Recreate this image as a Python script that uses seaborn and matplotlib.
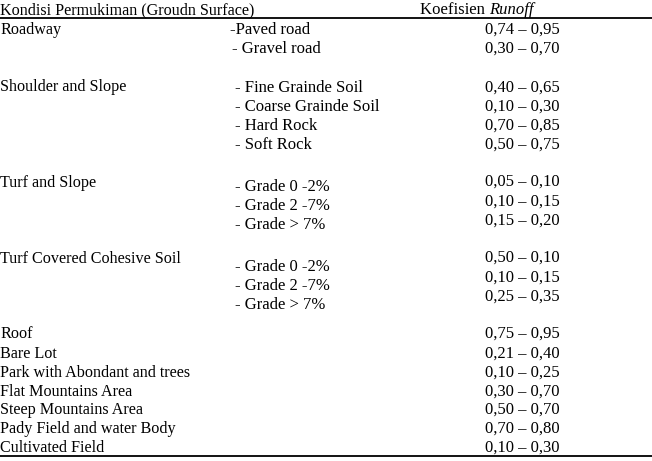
import matplotlib
matplotlib.use("Agg")
import matplotlib.pyplot as plt
import seaborn as sns
import pandas as pd

sns.set_theme(style="white")
plt.rcParams['font.family'] = ['Liberation Serif', 'DejaVu Serif']

# ---- table content ----
header_left = "Kondisi Permukiman (Groudn Surface)"
header_right_plain = "Koefisien "
header_right_italic = "Runoff"

groups = ["Roadway", "Shoulder and Slope", "Turf and Slope",
          "Turf Covered Cohesive Soil", "Roof", "Bare Lot",
          "Park with Abondant and trees", "Flat Mountains Area",
          "Steep Mountains Area", "Pady Field and water Body",
          "Cultivated Field"]

subitems = ["-Paved road", "- Gravel road",
            "- Fine Grainde Soil", "- Coarse Grainde Soil", "- Hard Rock", "- Soft Rock",
            "- Grade 0 -2%", "- Grade 2 -7%", "- Grade > 7%",
            "- Grade 0 -2%", "- Grade 2 -7%", "- Grade > 7%"]

coefficients = ["0,74 – 0,95", "0,30 – 0,70",
                "0,40 – 0,65", "0,10 – 0,30", "0,70 – 0,85", "0,50 – 0,75",
                "0,05 – 0,10", "0,10 – 0,15", "0,15 – 0,20",
                "0,50 – 0,10", "0,10 – 0,15", "0,25 – 0,35",
                "0,75 – 0,95", "0,21 – 0,40", "0,10 – 0,25", "0,30 – 0,70",
                "0,50 – 0,70", "0,70 – 0,80", "0,10 – 0,30"]

# ---- layout (pixel baselines) ----
group_y = [34, 91, 187, 263, 338, 358, 377, 396, 414, 433, 452]
sub_y = [34, 53, 92, 111, 130, 149, 191, 210, 229, 271, 290, 309]
coef_y = [34, 53, 92, 111, 130, 149, 186, 206, 225, 262, 282, 301,
          338, 358, 377, 396, 414, 433, 452]
sub_x = [230, 232, 235, 235, 235, 235, 235, 235, 235, 235, 235, 235]

W, H = 652, 461
fig = plt.figure(figsize=(W / 100, H / 100), dpi=100)
ax = fig.add_axes([0, 0, 1, 1])
ax.set_xlim(0, W)
ax.set_ylim(H, 0)
ax.axis("off")

fs = 12
fs_left = 11.6
ax.text(0, 14, header_left, fontsize=fs_left, va="baseline", ha="left", color="black")
t1 = ax.text(420, 14, header_right_plain, fontsize=fs, va="baseline", ha="left", color="black")
fig.canvas.draw()
bb = t1.get_window_extent(renderer=fig.canvas.get_renderer())
x_end = bb.x1  # pixels from left (axes spans whole figure)
ax.text(x_end, 14, header_right_italic, fontsize=fs, style="italic",
        va="baseline", ha="left", color="black")

for g, y in zip(groups, group_y):
    ax.text(0, y, g, fontsize=fs_left, va="baseline", ha="left", color="black")
for s, x, y in zip(subitems, sub_x, sub_y):
    ax.text(x, y, s, fontsize=fs, va="baseline", ha="left", color="black")
for c, y in zip(coefficients, coef_y):
    ax.text(522, y, c, fontsize=fs, va="baseline", ha="center", color="black")

# horizontal rules
rules = pd.DataFrame({"x": [0, W, 0, W], "y": [18.5, 18.5, 456, 456],
                      "rule": ["top", "top", "bottom", "bottom"]})
sns.lineplot(data=rules, x="x", y="y", units="rule", estimator=None,
             color="black", linewidth=1.3, ax=ax, legend=False)
ax.set_xlim(0, W)
ax.set_ylim(H, 0)
ax.axis("off")

fig.savefig("out.png", dpi=100)
